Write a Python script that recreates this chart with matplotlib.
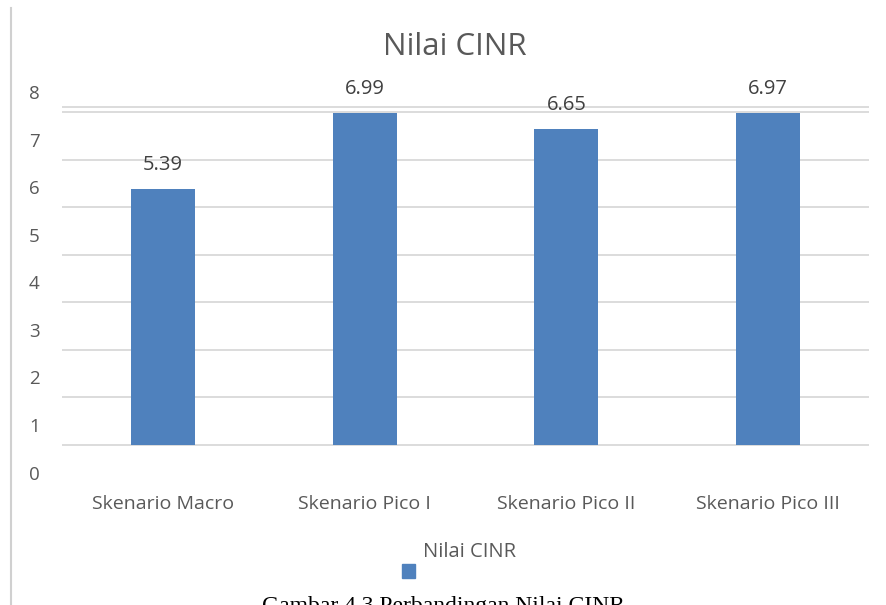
import matplotlib.pyplot as plt
from matplotlib.patches import Rectangle

plt.rcParams['font.family'] = ['Open Sans', 'DejaVu Sans']

categories = ['Skenario Macro', 'Skenario Pico I', 'Skenario Pico II', 'Skenario Pico III']
cinr = [5.39, 6.99, 6.65, 6.97]
ytick_labels = ['0', '1', '2', '3', '4', '5', '6', '7', '8']

bar_color = '#4F81BD'
text_color = '#595959'
grid_color = '#D9D9D9'

fig = plt.figure(figsize=(8.86, 6.05), dpi=100)
ax = fig.add_axes([0.06998, 0.2094, 0.9108, 0.6526])

# gridlines 0..7 plus the extra top border line
for g in range(0, 8):
    ax.axhline(g, color=grid_color, lw=1.3, zorder=0)
ax.axhline(7.1, color=grid_color, lw=1.3, zorder=0)

x = range(len(categories))
ax.bar(x, cinr, width=0.317, color=bar_color, zorder=2)

for xi, v in zip(x, cinr):
    ax.annotate(f'{v:.2f}', (xi, v), xytext=(0, 24), textcoords='offset pixels',
                ha='center', va='center', fontsize=14.5, color='#404040')

ax.set_xlim(-0.5, len(categories) - 0.5)
ax.set_ylim(-0.7, 7.6)

# tick labels sit a bit below their gridlines in the source picture
ax.set_yticks([k - 0.58 for k in range(len(ytick_labels))])
ax.set_yticklabels(ytick_labels)
ax.set_xticks(list(x))
ax.set_xticklabels(categories)
ax.tick_params(axis='y', length=0, pad=20, labelsize=13.5, labelcolor=text_color)
ax.tick_params(axis='x', length=0, pad=12, labelsize=14, labelcolor=text_color)
for lab in ax.get_yticklabels():
    lab.set_horizontalalignment('center')

for s in ax.spines.values():
    s.set_visible(False)

fig.text(455 / 886, 1 - 47 / 605, 'Nilai CINR', ha='center', va='center',
         fontsize=22.5, color=text_color)

# legend, drawn as in the source (text above-right of the swatch)
fig.patches.append(Rectangle((402 / 886, 1 - 578 / 605), 13 / 886, 14 / 605,
                             transform=fig.transFigure, color=bar_color))
fig.text(423 / 886, 1 - 552 / 605, 'Nilai CINR', ha='left', va='center',
         fontsize=14.5, color=text_color)

# page border at left and the caption below, cut off by the page edge
fig.add_artist(plt.Line2D([11 / 886, 11 / 886], [0, 1 - 8 / 605], color='#D0D0D0', lw=1.5))
fig.text(443 / 886, 1 - 596 / 605, 'Gambar 4.3 Perbandingan Nilai CINR', ha='center', va='top',
         fontsize=17, color='black', family=['Liberation Serif', 'DejaVu Serif'])

fig.savefig('out.png', dpi=100)
